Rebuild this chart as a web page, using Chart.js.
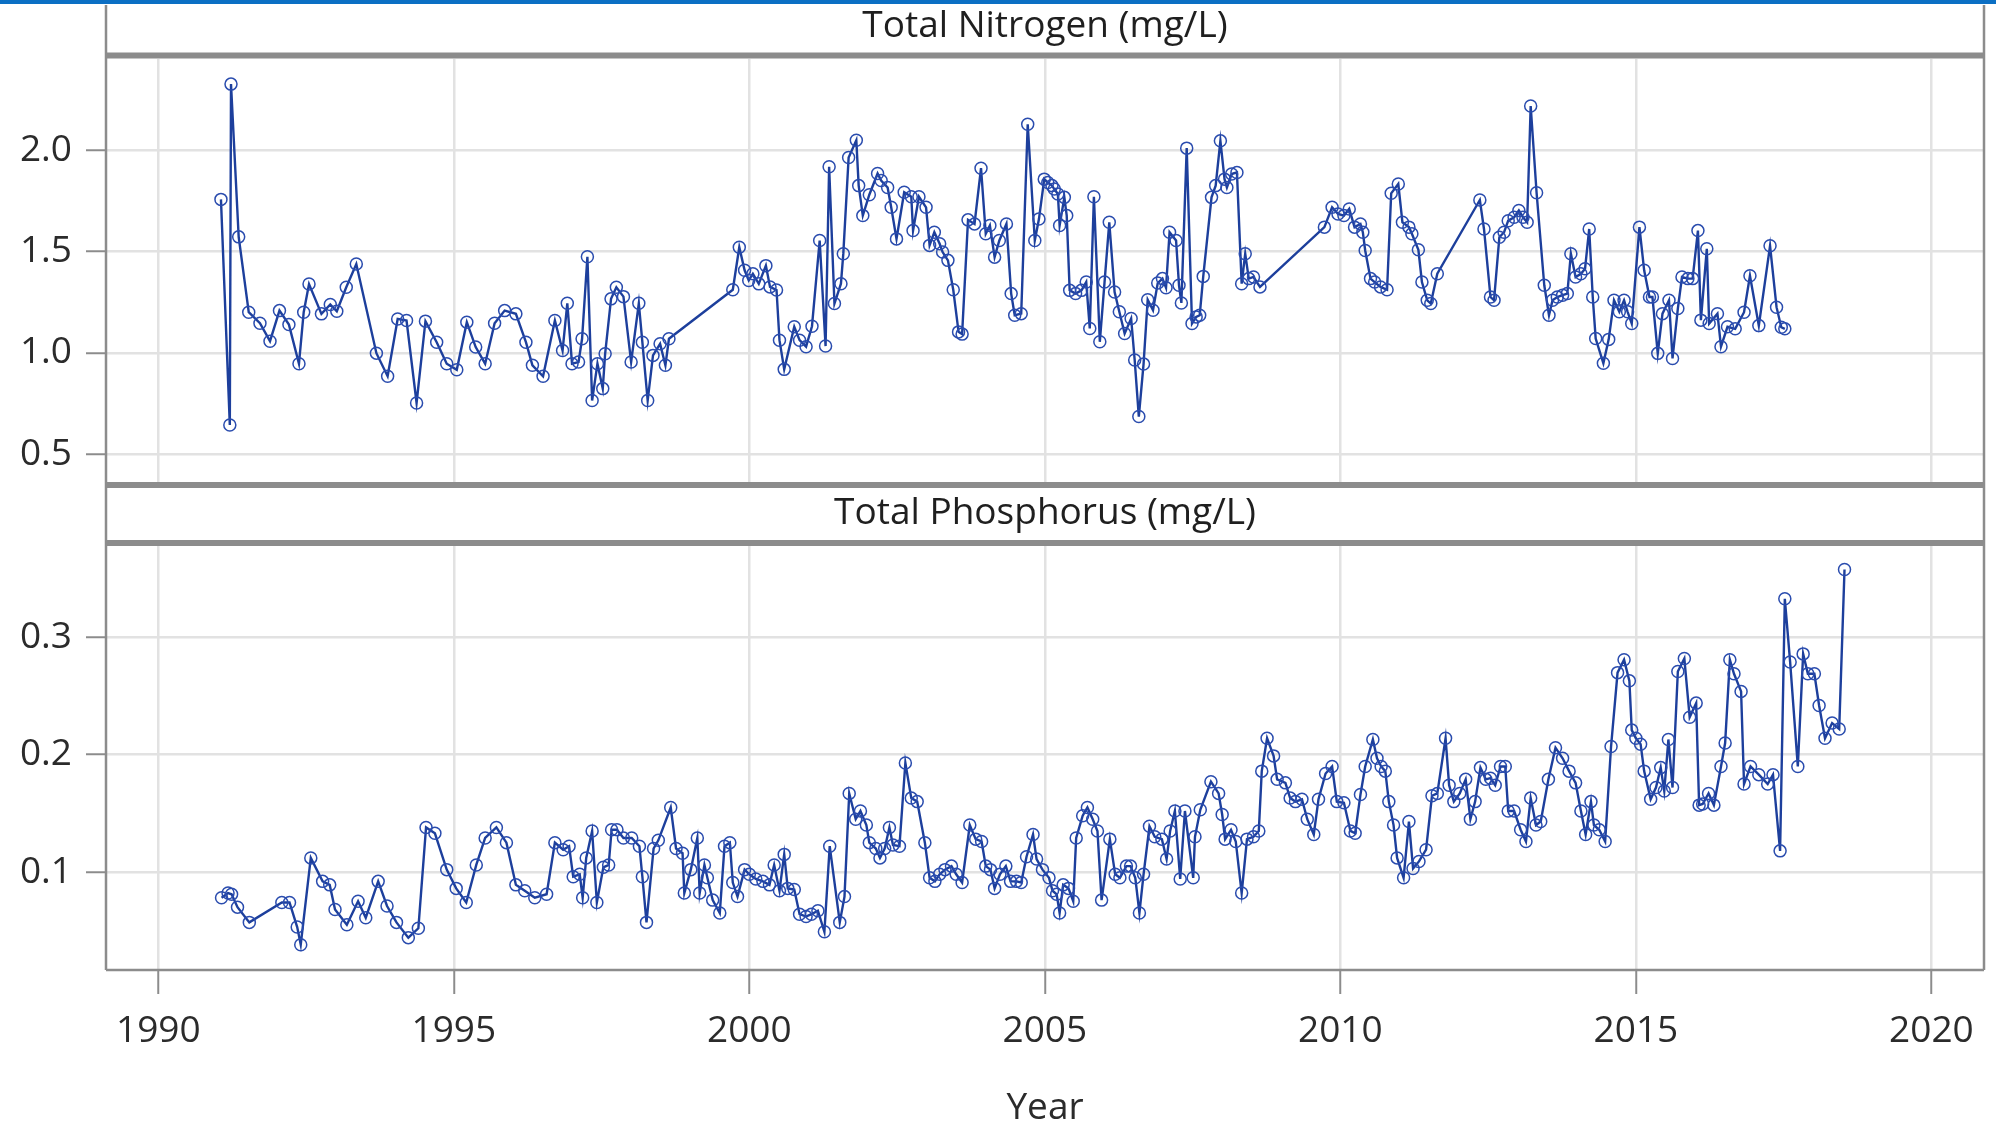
<!DOCTYPE html>
<html>
<head>
<meta charset="utf-8">
<title>Total Nitrogen and Total Phosphorus</title>
<script src="https://cdn.jsdelivr.net/npm/chart.js@4.4.1/dist/chart.umd.min.js"></script>
<style>
  html, body { margin: 0; padding: 0; background: #fff; }
  #wrap { position: relative; width: 1996px; height: 1127px; overflow: hidden; }
  #topbar { position: absolute; left: 0; top: 0; width: 1996px; height: 4px; background: #0b6fc4; }
  #cN { position: absolute; left: 0; top: 0; }
  #cP { position: absolute; left: 0; top: 482px; }
</style>
</head>
<body>
<div id="wrap">
  <canvas id="cN" width="1996" height="482"></canvas>
  <canvas id="cP" width="1996" height="645"></canvas>
  <div id="topbar"></div>
</div>
<script>
// sample dates (decimal years) and concentrations
const nitrogenYears = [
  1991.06,1991.21,1991.23,1991.36,1991.53,1991.72,1991.89,1992.05,1992.21,1992.38,1992.46,1992.55,
  1992.76,1992.91,1993.02,1993.18,1993.35,1993.69,1993.88,1994.05,1994.20,1994.37,1994.52,1994.71,
  1994.88,1995.05,1995.22,1995.37,1995.53,1995.69,1995.86,1996.05,1996.22,1996.33,1996.51,1996.71,
  1996.84,1996.92,1997.00,1997.11,1997.17,1997.26,1997.34,1997.43,1997.52,1997.56,1997.66,1997.75,
  1997.87,1998.00,1998.13,1998.19,1998.28,1998.37,1998.49,1998.58,1998.64,
  1999.72,1999.83,1999.92,1999.99,2000.06,2000.16,2000.28,2000.35,2000.46,2000.51,2000.59,2000.76,
  2000.85,2000.96,2001.06,2001.19,2001.29,2001.35,2001.44,2001.55,2001.59,2001.68,2001.81,2001.85,
  2001.92,2002.03,2002.17,2002.23,2002.34,2002.40,2002.49,2002.62,2002.74,2002.77,2002.87,2002.99,
  2003.05,2003.13,2003.22,2003.27,2003.36,2003.45,2003.54,2003.60,2003.70,2003.81,2003.92,2004.00,
  2004.07,2004.15,2004.23,2004.35,2004.43,2004.49,2004.60,2004.71,2004.83,2004.90,2004.99,2005.05,
  2005.12,2005.16,2005.22,2005.25,2005.33,2005.37,2005.42,2005.52,2005.62,2005.70,2005.76,2005.83,
  2005.93,2006.01,2006.09,2006.18,2006.26,2006.35,2006.46,2006.52,2006.59,2006.67,2006.74,2006.83,
  2006.91,2006.99,2007.05,2007.11,2007.22,2007.27,2007.31,2007.40,2007.49,2007.56,2007.62,2007.68,
  2007.82,2007.89,2007.97,2008.04,2008.08,2008.16,2008.25,2008.33,2008.39,2008.45,2008.53,2008.64,
  2009.73,2009.86,2009.96,2010.06,2010.15,2010.24,2010.34,2010.38,2010.42,2010.51,2010.58,2010.68,
  2010.79,2010.86,2010.98,2011.05,2011.16,2011.21,2011.32,2011.38,2011.47,2011.53,2011.64,
  2012.36,2012.43,2012.54,2012.60,2012.69,2012.77,2012.84,2012.94,2013.02,2013.09,2013.16,2013.22,
  2013.32,2013.45,2013.53,2013.59,2013.67,2013.76,2013.84,2013.90,2013.98,2014.07,2014.14,2014.21,
  2014.27,2014.32,2014.45,2014.54,2014.63,2014.72,2014.80,2014.86,2014.93,2015.06,2015.14,2015.23,
  2015.28,2015.37,2015.45,2015.56,2015.62,2015.71,2015.78,2015.88,2015.96,2016.05,2016.10,2016.20,
  2016.24,2016.38,2016.44,2016.55,2016.68,2016.83,2016.93,2017.08,2017.27,2017.38,2017.46,2017.52
];
const nitrogenValues = [
  1.757,0.643,2.326,1.572,1.200,1.146,1.057,1.208,1.139,0.946,1.200,1.339,
  1.192,1.238,1.205,1.323,1.438,0.998,0.884,1.167,1.159,0.752,1.156,1.052,
  0.946,0.916,1.151,1.028,0.946,1.146,1.208,1.192,1.052,0.938,0.884,1.159,
  1.011,1.244,0.946,0.954,1.069,1.474,0.764,0.946,0.823,0.995,1.266,1.323,
  1.277,0.954,1.244,1.052,0.764,0.987,1.044,0.938,1.069,
  1.311,1.521,1.407,1.357,1.390,1.340,1.430,1.325,1.310,1.062,0.918,1.128,
  1.062,1.030,1.131,1.554,1.033,1.918,1.243,1.341,1.489,1.964,2.049,1.825,
  1.677,1.780,1.885,1.850,1.816,1.718,1.562,1.792,1.770,1.603,1.770,1.718,
  1.530,1.595,1.538,1.497,1.456,1.311,1.103,1.092,1.656,1.636,1.911,1.587,
  1.628,1.472,1.554,1.636,1.292,1.185,1.193,2.128,1.554,1.660,1.857,1.840,
  1.825,1.808,1.784,1.628,1.767,1.677,1.308,1.292,1.308,1.349,1.120,1.770,
  1.054,1.349,1.644,1.300,1.202,1.095,1.169,0.964,0.685,0.944,1.262,1.210,
  1.344,1.366,1.321,1.595,1.554,1.333,1.246,2.010,1.144,1.177,1.185,1.377,
  1.767,1.825,2.046,1.857,1.816,1.882,1.890,1.341,1.489,1.366,1.374,1.325,
  1.620,1.718,1.685,1.677,1.710,1.620,1.636,1.595,1.505,1.366,1.349,1.325,
  1.311,1.787,1.833,1.644,1.620,1.587,1.508,1.349,1.259,1.243,1.390,
  1.754,1.611,1.275,1.259,1.570,1.595,1.652,1.669,1.702,1.669,1.644,2.218,
  1.790,1.333,1.185,1.259,1.275,1.284,1.292,1.489,1.374,1.390,1.415,1.611,
  1.275,1.070,0.948,1.066,1.259,1.202,1.259,1.202,1.144,1.620,1.407,1.275,
  1.275,0.997,1.193,1.259,0.972,1.218,1.374,1.366,1.366,1.603,1.161,1.513,
  1.144,1.193,1.030,1.128,1.118,1.200,1.380,1.134,1.528,1.225,1.126,1.118
];

const phosphorusYears = [
  1991.07,1991.18,1991.24,1991.34,1991.54,1992.09,1992.22,1992.35,1992.41,1992.58,1992.78,1992.90,
  1992.99,1993.19,1993.38,1993.51,1993.72,1993.87,1994.03,1994.23,1994.40,1994.53,1994.68,1994.88,
  1995.04,1995.21,1995.38,1995.53,1995.72,1995.89,1996.05,1996.20,1996.37,1996.57,1996.71,1996.85,
  1996.95,1997.02,1997.13,1997.18,1997.24,1997.34,1997.42,1997.53,1997.62,1997.67,1997.76,1997.87,
  1998.01,1998.14,1998.19,1998.26,1998.38,1998.46,1998.67,1998.76,1998.87,1998.90,1999.01,1999.12,
  1999.16,1999.24,1999.29,1999.38,1999.50,1999.58,1999.67,1999.72,1999.80,1999.92,2000.00,2000.11,
  2000.23,2000.34,2000.42,2000.51,2000.59,2000.65,2000.76,2000.85,2000.96,2001.05,2001.16,2001.27,
  2001.36,2001.53,2001.61,2001.69,2001.80,2001.88,2001.98,2002.03,2002.14,2002.21,2002.29,2002.37,
  2002.43,2002.54,2002.64,2002.74,2002.84,2002.97,2003.05,2003.14,2003.22,2003.31,2003.42,2003.50,
  2003.60,2003.73,2003.83,2003.93,2004.00,2004.08,2004.15,2004.24,2004.34,2004.42,2004.52,2004.60,
  2004.69,2004.80,2004.86,2004.96,2005.07,2005.13,2005.20,2005.25,2005.31,2005.40,2005.48,2005.53,
  2005.64,2005.72,2005.81,2005.89,2005.96,2006.10,2006.19,2006.27,2006.38,2006.45,2006.53,2006.60,
  2006.67,2006.77,2006.86,2006.98,2007.06,2007.12,2007.20,2007.29,2007.37,2007.51,2007.54,2007.63,
  2007.81,2007.94,2008.00,2008.05,2008.15,2008.23,2008.33,2008.42,2008.53,2008.62,2008.67,2008.76,
  2008.87,2008.93,2009.07,2009.15,2009.24,2009.35,2009.44,2009.55,2009.63,2009.75,2009.86,2009.94,
  2010.06,2010.17,2010.25,2010.34,2010.42,2010.55,2010.62,2010.69,2010.76,2010.82,2010.90,2010.96,
  2011.07,2011.16,2011.23,2011.33,2011.45,2011.55,2011.64,2011.78,2011.84,2011.92,2012.02,2012.12,
  2012.20,2012.28,2012.37,2012.46,2012.54,2012.62,2012.71,2012.79,2012.84,2012.94,2013.05,2013.14,
  2013.22,2013.31,2013.39,2013.52,2013.64,2013.76,2013.87,2013.98,2014.07,2014.15,2014.24,2014.29,
  2014.38,2014.48,2014.58,2014.69,2014.80,2014.89,2014.93,2015.00,2015.08,2015.14,2015.25,2015.34,
  2015.42,2015.48,2015.55,2015.62,2015.71,2015.82,2015.91,2016.02,2016.07,2016.13,2016.23,2016.32,
  2016.44,2016.51,2016.59,2016.66,2016.78,2016.83,2016.94,2017.08,2017.23,2017.32,2017.44,2017.52,
  2017.61,2017.74,2017.83,2017.91,2018.02,2018.10,2018.20,2018.32,2018.44,2018.53
];
const phosphorusValues = [
  0.078,0.082,0.081,0.070,0.057,0.074,0.074,0.053,0.038,0.112,0.092,0.089,
  0.068,0.055,0.075,0.061,0.092,0.071,0.057,0.044,0.052,0.138,0.133,0.102,
  0.086,0.074,0.106,0.129,0.138,0.125,0.089,0.084,0.078,0.081,0.125,0.119,
  0.122,0.096,0.098,0.078,0.112,0.135,0.074,0.104,0.106,0.136,0.136,0.129,
  0.129,0.122,0.096,0.057,0.120,0.127,0.155,0.120,0.116,0.082,0.102,0.129,
  0.082,0.106,0.095,0.076,0.065,0.122,0.125,0.091,0.079,0.102,0.098,0.094,
  0.092,0.089,0.106,0.084,0.115,0.086,0.085,0.064,0.062,0.064,0.067,0.049,
  0.122,0.057,0.079,0.167,0.145,0.152,0.140,0.125,0.120,0.112,0.120,0.138,
  0.123,0.122,0.193,0.163,0.160,0.125,0.095,0.092,0.098,0.102,0.105,0.098,
  0.091,0.140,0.128,0.126,0.105,0.102,0.086,0.098,0.105,0.092,0.092,0.091,
  0.113,0.132,0.111,0.102,0.095,0.084,0.081,0.065,0.089,0.086,0.075,0.129,
  0.148,0.155,0.145,0.135,0.076,0.128,0.098,0.095,0.105,0.105,0.095,0.065,
  0.098,0.139,0.130,0.128,0.111,0.135,0.152,0.094,0.152,0.095,0.130,0.153,
  0.177,0.167,0.149,0.128,0.136,0.126,0.082,0.128,0.130,0.135,0.186,0.214,
  0.199,0.179,0.176,0.163,0.160,0.162,0.145,0.132,0.162,0.184,0.190,0.160,
  0.159,0.135,0.133,0.166,0.190,0.213,0.197,0.190,0.186,0.160,0.140,0.112,
  0.095,0.143,0.103,0.109,0.119,0.165,0.167,0.214,0.174,0.160,0.167,0.179,
  0.145,0.160,0.189,0.179,0.180,0.174,0.190,0.190,0.152,0.152,0.136,0.126,
  0.163,0.140,0.143,0.179,0.206,0.197,0.186,0.176,0.152,0.132,0.160,0.140,
  0.136,0.126,0.207,0.270,0.281,0.263,0.221,0.214,0.209,0.186,0.162,0.172,
  0.189,0.169,0.213,0.172,0.271,0.282,0.232,0.244,0.157,0.158,0.167,0.157,
  0.190,0.210,0.281,0.269,0.254,0.175,0.190,0.183,0.175,0.183,0.118,0.333,
  0.279,0.190,0.286,0.269,0.269,0.242,0.214,0.227,0.222,0.358
];

const yearTicks = [1990, 1995, 2000, 2005, 2010, 2015, 2020];
const nitrogenTicks = [0.5, 1.0, 1.5, 2.0];
const phosphorusTicks = [0.1, 0.2, 0.3];

const FONT = '"Open Sans", "Noto Sans", sans-serif';
const TEXT = '#2b2b2b';
const GRID = '#e2e2e2';
const RULE = '#8c8c8c';
const LINE = '#1d3f9c';

// header strip, thick rules and side frame of each panel
const panelFrame = {
  id: 'panelFrame',
  afterDraw(chart, args, opts) {
    const { ctx, chartArea: { left, right, bottom } } = chart;
    ctx.save();
    ctx.strokeStyle = RULE;
    ctx.lineWidth = 6;
    opts.rules.forEach(y => {
      ctx.beginPath();
      ctx.moveTo(left - 1, y);
      ctx.lineTo(right + 1, y);
      ctx.stroke();
    });
    ctx.lineWidth = 2.5;
    ctx.beginPath();
    ctx.moveTo(left, opts.frameTop); ctx.lineTo(left, bottom);
    ctx.moveTo(right, opts.frameTop); ctx.lineTo(right, bottom);
    if (opts.closeBottom) {
      ctx.moveTo(left, bottom); ctx.lineTo(right, bottom);
    }
    ctx.stroke();
    ctx.fillStyle = '#1f1f1f';
    ctx.font = '37px ' + FONT;
    ctx.textAlign = 'center';
    ctx.textBaseline = 'middle';
    ctx.fillText(opts.label, (left + right) / 2, opts.labelY);
    ctx.restore();
  }
};

function toPoints(xs, ys) {
  return xs.map((x, i) => ({ x: x, y: ys[i] }));
}

function seriesDataset(xs, ys) {
  return {
    data: toPoints(xs, ys),
    borderColor: LINE,
    borderWidth: 2.4,
    borderJoinStyle: 'miter',
    tension: 0,
    pointStyle: 'circle',
    pointRadius: 6,
    pointBorderWidth: 1.5,
    pointBorderColor: '#2a4cae',
    pointBackgroundColor: 'rgba(255,255,255,0)'
  };
}

function yScale(min, max, ticks) {
  return {
    type: 'linear',
    min: min,
    max: max,
    // fixed axis width, and no extra room reserved for the end labels
    afterFit: s => { s.width = 106; s.paddingTop = 0; s.paddingBottom = 0; },
    afterBuildTicks: s => { s.ticks = ticks.map(v => ({ value: v })); },
    border: { display: false },
    grid: { color: GRID, lineWidth: 2.5, drawTicks: true, tickLength: 20, tickColor: RULE, tickWidth: 2 },
    ticks: { color: TEXT, font: { family: FONT, size: 37 }, padding: 14, callback: v => v.toFixed(1) }
  };
}

function xScale(showAxis) {
  return {
    type: 'linear',
    min: 1989.115,
    max: 2020.89,
    afterFit: s => { s.height = showAxis ? 157 : 0; s.paddingLeft = 0; s.paddingRight = 0; },
    afterBuildTicks: s => { s.ticks = yearTicks.map(v => ({ value: v })); },
    border: { display: false },
    grid: { color: GRID, lineWidth: 2.5, drawTicks: showAxis, tickLength: 24, tickColor: RULE, tickWidth: 2 },
    ticks: { display: showAxis, color: TEXT, font: { family: FONT, size: 37 }, padding: 15, maxRotation: 0, callback: v => String(v) },
    title: { display: showAxis, text: 'Year', color: TEXT, font: { family: FONT, size: 37, lineHeight: 1.0 }, padding: { top: 0, bottom: 0 } }
  };
}

const common = {
  responsive: false,
  animation: false,
  events: [],
  plugins: { legend: { display: false }, tooltip: { enabled: false } }
};

// Total Nitrogen panel
new Chart(document.getElementById('cN'), {
  type: 'line',
  data: { datasets: [seriesDataset(nitrogenYears, nitrogenValues)] },
  options: Object.assign({}, common, {
    layout: { autoPadding: false, padding: { top: 59, right: 12, bottom: 0, left: 0 } },
    scales: { x: xScale(false), y: yScale(0.362, 2.45, nitrogenTicks) },
    plugins: Object.assign({}, common.plugins, {
      panelFrame: { label: 'Total Nitrogen (mg/L)', labelY: 26, rules: [55.5], frameTop: 5, closeBottom: false }
    })
  }),
  plugins: [panelFrame]
});

// Total Phosphorus panel with the shared Year axis
new Chart(document.getElementById('cP'), {
  type: 'line',
  data: { datasets: [seriesDataset(phosphorusYears, phosphorusValues)] },
  options: Object.assign({}, common, {
    layout: { autoPadding: false, padding: { top: 64, right: 12, bottom: 0, left: 0 } },
    scales: { x: xScale(true), y: yScale(0.0164, 0.378, phosphorusTicks) },
    plugins: Object.assign({}, common.plugins, {
      panelFrame: { label: 'Total Phosphorus (mg/L)', labelY: 31, rules: [3, 61], frameTop: 0, closeBottom: true }
    })
  }),
  plugins: [panelFrame]
});
</script>
</body>
</html>
